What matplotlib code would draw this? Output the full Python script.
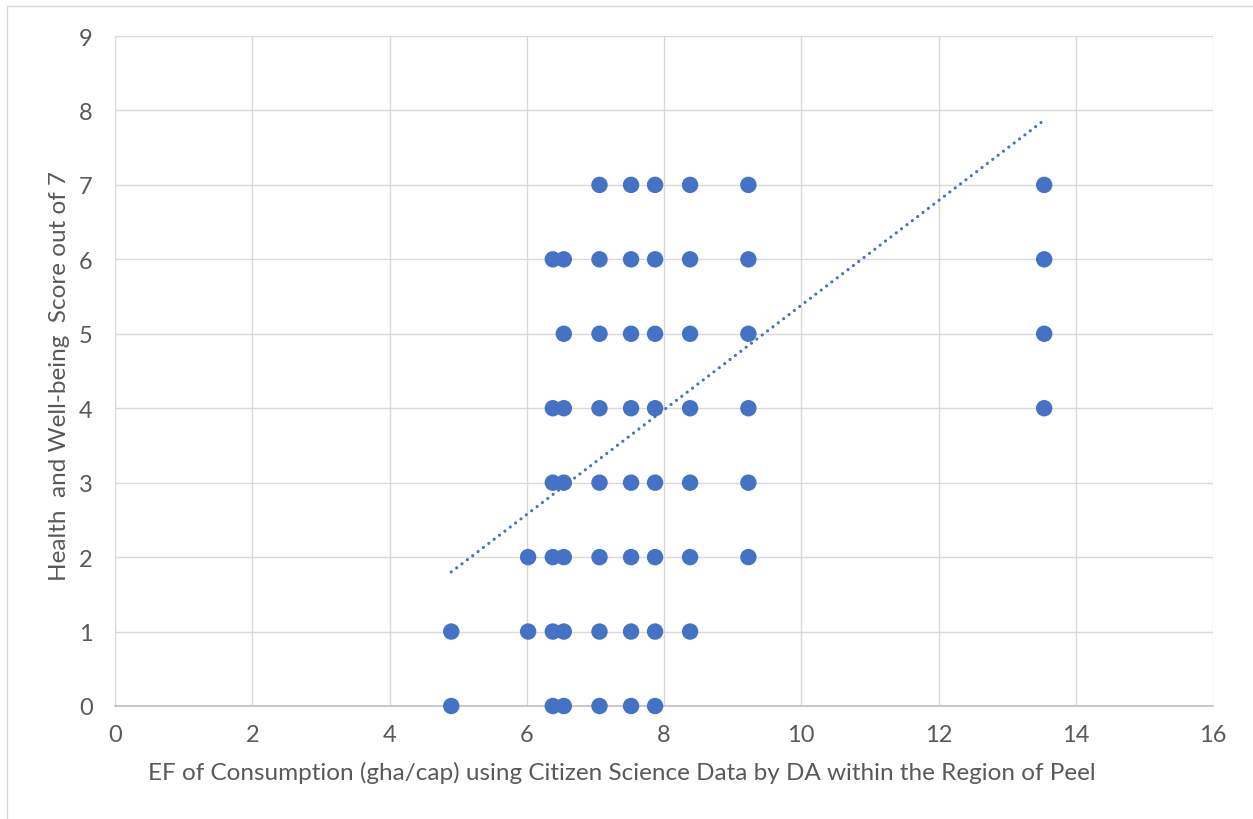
import matplotlib
matplotlib.use("Agg")
import matplotlib.pyplot as plt
from matplotlib.patches import Rectangle
import numpy as np

plt.rcParams['font.family'] = ['Lato', 'DejaVu Sans']

# Ecological footprint (gha/cap) per dissemination area and the reported score
ef_values = (
    [7.06, 7.52, 7.87, 8.38, 9.23, 13.54] +                      # score 7
    [6.38, 6.54, 7.06, 7.52, 7.87, 8.38, 9.23, 13.54] +          # score 6
    [6.54, 7.06, 7.52, 7.87, 8.38, 9.23, 13.54] +                # score 5
    [6.38, 6.54, 7.06, 7.52, 7.87, 8.38, 9.23, 13.54] +          # score 4
    [6.38, 6.54, 7.06, 7.52, 7.87, 8.38, 9.23] +                 # score 3
    [6.02, 6.38, 6.54, 7.06, 7.52, 7.87, 8.38, 9.23] +           # score 2
    [4.90, 6.02, 6.38, 6.54, 7.06, 7.52, 7.87, 8.38] +           # score 1
    [4.90, 6.38, 6.54, 7.06, 7.52, 7.87]                         # score 0
)
score_values = (
    [7] * 6 + [6] * 8 + [5] * 7 + [4] * 8 +
    [3] * 7 + [2] * 8 + [1] * 8 + [0] * 6
)

# Linear trendline
trend_slope = 0.7025
trend_intercept = -1.642
trend_x_range = [4.90, 13.54]

x_ticks = [0, 2, 4, 6, 8, 10, 12, 14, 16]
y_ticks = [0, 1, 2, 3, 4, 5, 6, 7, 8, 9]

x_title = "EF of Consumption (gha/cap) using Citizen Science Data by DA within the Region of Peel"
y_title = "Health  and Well-being  Score out of 7"

blue = "#4472C4"
grid_grey = "#D9D9D9"
text_grey = "#595959"

W, H = 1253, 820
fig = plt.figure(figsize=(W / 100, H / 100), dpi=100)
fig.patches.append(Rectangle((7 / W, -0.05), 1.2, 1 - 7 / H + 0.05,
                             transform=fig.transFigure, fill=False,
                             edgecolor=grid_grey, linewidth=1.0))

ax = fig.add_axes([115 / W, 1 - 707 / H, 1098 / W, 670 / H])
ax.set_xlim(0, 16)
ax.set_ylim(0, 9)
ax.set_xticks(x_ticks)
ax.set_yticks(y_ticks)
ax.grid(True, color=grid_grey, linewidth=1.0, zorder=0)
ax.set_axisbelow(True)
for side in ("top", "right", "left"):
    ax.spines[side].set_visible(False)
ax.spines["bottom"].set_color("#BFBFBF")
ax.spines["bottom"].set_linewidth(1.2)
ax.tick_params(length=0, labelsize=17, labelcolor=text_grey)
ax.tick_params(axis="x", pad=13)
ax.tick_params(axis="y", pad=16)

ax.scatter(ef_values, score_values, s=140, color=blue, edgecolors="none",
           zorder=3, clip_on=False)

tx = np.array(trend_x_range)
ax.plot(tx, trend_slope * tx + trend_intercept, color=blue, linewidth=2.3,
        linestyle=(0, (0.01, 2.1)), dash_capstyle="round", zorder=4)

fig.text(622 / W, 1 - 773 / H, x_title, ha="center", va="center",
         fontsize=17.5, color=text_grey)
fig.text(60 / W, 1 - 376 / H, y_title, ha="center", va="center",
         rotation=90, fontsize=17.5, color=text_grey)

fig.savefig("out.png", dpi=100)
